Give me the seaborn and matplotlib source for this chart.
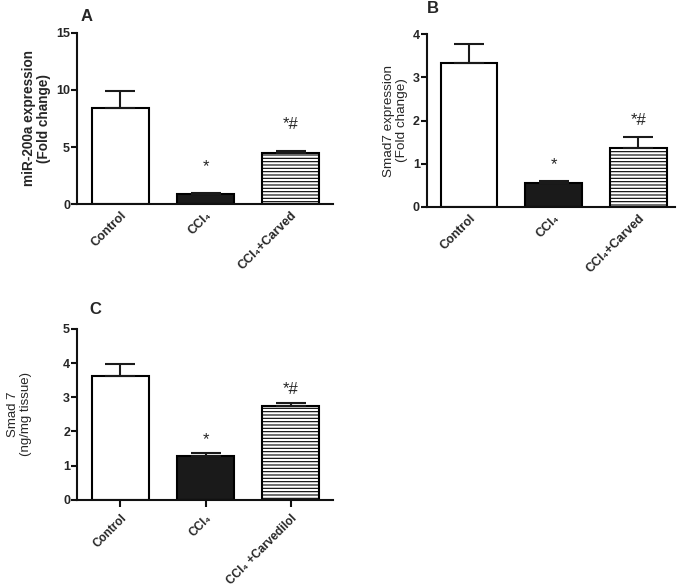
import matplotlib
matplotlib.use('Agg')
import matplotlib.pyplot as plt
import seaborn as sns

# Data
groups_ab = ['Control', 'CCl\u2084', 'CCl\u2084+Carved']
groups_c = ['Control', 'CCl\u2084', 'CCl\u2084 +Carvedilol']

mir200a_mean = [8.4, 0.9, 4.5]
mir200a_sem = [1.5, 0.05, 0.15]
mir200a_marks = ['', '*', '*#']

smad7_mrna_mean = [3.33, 0.55, 1.36]
smad7_mrna_sem = [0.44, 0.05, 0.26]
smad7_mrna_marks = ['', '*', '*#']

smad7_prot_mean = [3.62, 1.27, 2.75]
smad7_prot_sem = [0.35, 0.09, 0.08]
smad7_prot_marks = ['', '*', '*#']

sns.set_style('ticks')
plt.rcParams['font.family'] = ['Liberation Sans', 'DejaVu Sans']
plt.rcParams['hatch.linewidth'] = 0.8

bar_colors = ['white', '#1a1a1a', 'white']

fig = plt.figure(figsize=(6.85, 5.88), dpi=100)
ax_a = fig.add_axes([0.1124, 0.653, 0.374, 0.291])
ax_b = fig.add_axes([0.623, 0.648, 0.362, 0.294])
ax_c = fig.add_axes([0.1124, 0.150, 0.374, 0.2905])


def draw_panel(ax, groups, means, sems, marks, ymax, yticks, xlim, ylabel,
               label_x, label_bold, label_size, mark_offset, show_xticks,
               xtick_size):
    sns.barplot(x=groups, y=means, hue=groups, palette=bar_colors, legend=False,
                edgecolor='black', linewidth=1.5, width=0.67, ax=ax)
    ax.patches[2].set_hatch('-----')
    ax.errorbar(range(len(means)), means, yerr=[[0] * len(sems), sems],
                fmt='none', ecolor='#1a1a1a', elinewidth=1.5, capsize=11,
                capthick=1.5, zorder=1)
    for i, (m, s, txt) in enumerate(zip(means, sems, marks)):
        if txt:
            ax.annotate(txt, (i, m + s), xytext=(0, mark_offset),
                        textcoords='offset points', ha='center', va='center',
                        fontsize=12)
    ax.set_ylim(0, ymax)
    ax.set_yticks(yticks)
    ax.set_xlim(*xlim)
    for side in ['left', 'bottom']:
        ax.spines[side].set_linewidth(1.5)
        ax.spines[side].set_color('#111111')
    sns.despine(ax=ax)
    ax.tick_params(axis='y', length=4, width=1.5, labelsize=9, pad=1,
                   color='#111111')
    ax.tick_params(axis='x', length=5 if show_xticks else 0, width=1.5,
                   labelsize=xtick_size, pad=4, color='#111111')
    for lbl in ax.get_yticklabels():
        lbl.set_fontweight('bold')
    ax.set_xticks(range(len(groups)))
    ax.set_xticklabels(groups, rotation=45, ha='right', rotation_mode='anchor',
                       fontweight='bold')
    ax.set_xlabel('')
    ax.set_ylabel(ylabel, fontsize=label_size,
                  fontweight='bold' if label_bold else 'normal',
                  linespacing=1.1)
    ax.yaxis.set_label_coords(label_x, 0.5)


draw_panel(ax_a, groups_ab, mir200a_mean, mir200a_sem, mir200a_marks,
           15, [0, 5, 10, 15], (-0.51, 2.5),
           'miR-200a expression\n(Fold change)', -0.10, True, 9.8, 19, False, 9)
draw_panel(ax_b, groups_ab, smad7_mrna_mean, smad7_mrna_sem, smad7_mrna_marks,
           4, [0, 1, 2, 3, 4], (-0.5, 2.43),
           'Smad7 expression\n(Fold change)', -0.075, False, 9.7, 12, False, 9)
draw_panel(ax_c, groups_c, smad7_prot_mean, smad7_prot_sem, smad7_prot_marks,
           5, [0, 1, 2, 3, 4, 5], (-0.51, 2.5),
           'Smad 7\n(ng/mg tissue)', -0.175, False, 9.5, 10, True, 8.5)

fig.text(0.127, 0.972, 'A', fontsize=12, fontweight='bold', ha='center', va='center')
fig.text(0.632, 0.986, 'B', fontsize=12, fontweight='bold', ha='center', va='center')
fig.text(0.139, 0.473, 'C', fontsize=12, fontweight='bold', ha='center', va='center')

fig.savefig('out.png', dpi=100)
